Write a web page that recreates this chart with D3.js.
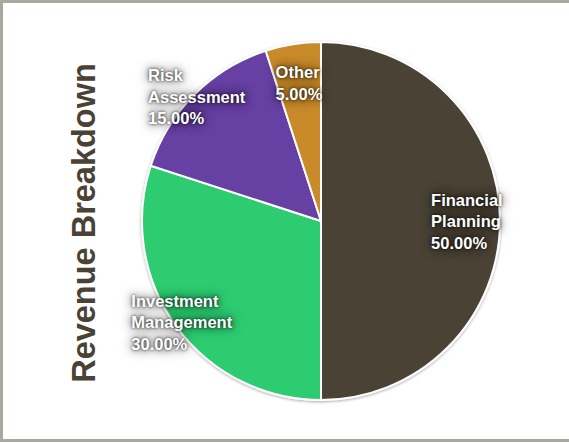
<!DOCTYPE html>
<html>
<head>
<meta charset="utf-8">
<script src="https://cdn.jsdelivr.net/npm/d3@7"></script>
<style>
  html, body { margin: 0; padding: 0; background: #fff; }
  svg { display: block; }
  .slice-label { text-shadow: 0 0 3px rgba(0,0,0,0.8), 0 0 8px rgba(0,0,0,0.6), 0 0 14px rgba(0,0,0,0.35); }
</style>
</head>
<body>
<script>
// Chart values
var categories = ["Financial Planning", "Investment Management", "Risk Assessment", "Other"];
var shares = [50, 30, 15, 5];
var colors = ["#4a4235", "#2ecc71", "#663fa3", "#c98b2a"];
var chartTitle = "Revenue Breakdown";

var width = 569, height = 443;

var svg = d3.select("body").append("svg")
  .attr("width", width)
  .attr("height", height);

// Drop shadow for the pie outline:
var defs = svg.append("defs");
var shadow = defs.append("filter").attr("id", "pie-shadow")
  .attr("x", "-10%").attr("y", "-10%").attr("width", "120%").attr("height", "120%");
shadow.append("feGaussianBlur").attr("in", "SourceAlpha").attr("stdDeviation", 1.5);
shadow.append("feOffset").attr("dx", 0).attr("dy", 1).attr("result", "blur");
shadow.append("feComponentTransfer").append("feFuncA").attr("type", "linear").attr("slope", 0.35);
var merge = shadow.append("feMerge");
merge.append("feMergeNode");
merge.append("feMergeNode").attr("in", "SourceGraphic");

// Frame (gray on top, left and bottom):
svg.append("rect")
  .attr("x", 1.5).attr("y", 1.5)
  .attr("width", width + 10).attr("height", height - 4)
  .attr("fill", "#fff")
  .attr("stroke", "#a9a79e")
  .attr("stroke-width", 3);

// Vertical title:
svg.append("text")
  .attr("transform", "translate(95,223) rotate(-90)")
  .attr("text-anchor", "middle")
  .attr("font-family", "Liberation Sans, Arial, sans-serif")
  .attr("font-weight", "bold")
  .attr("font-size", 32.5)
  .attr("fill", "#4a4235")
  .text(chartTitle);

var cx = 321, cy = 221, radius = 179;

var data = categories.map(function(c, i) {
  return { name: c, value: shares[i], color: colors[i] };
});

var pie = d3.pie().sort(null).value(function(d) { return d.value; });
var arc = d3.arc().innerRadius(0).outerRadius(radius);

var g = svg.append("g").attr("transform", "translate(" + cx + "," + cy + ")");
var arcs = pie(data);

g.append("g").attr("filter", "url(#pie-shadow)")
  .selectAll("path")
  .data(arcs)
  .enter().append("path")
  .attr("d", arc)
  .attr("fill", function(d) { return d.data.color; })
  .attr("stroke", "#fff")
  .attr("stroke-width", 2)
  .attr("stroke-linejoin", "round");

// Label distance from center, as a fraction of the radius (layout only):
var labelRadius = { "Financial Planning": 0.815, "Investment Management": 0.96,
                    "Risk Assessment": 0.98, "Other": 0.78 };

var total = d3.sum(shares);
var lineH = 21.5;

arcs.forEach(function(d) {
  var words = d.data.name.split(" ");
  var lines = words.concat([(d.data.value / total * 100).toFixed(2) + "%"]);
  var mid = (d.startAngle + d.endAngle) / 2;
  var r = radius * labelRadius[d.data.name];
  var px = Math.sin(mid) * r, py = -Math.cos(mid) * r;

  var t = g.append("text")
    .attr("class", "slice-label")
    .attr("font-family", "Liberation Sans, Arial, sans-serif")
    .attr("font-weight", "bold")
    .attr("font-size", 16.5)
    .attr("fill", "#fff");
  lines.forEach(function(l, i) {
    t.append("tspan").attr("x", 0).attr("y", i * lineH).text(l);
  });
  // Center the left-aligned block on the label point:
  var bb = t.node().getBBox();
  t.attr("transform", "translate(" + (px - bb.x - bb.width / 2) + "," +
    (py - bb.y - bb.height / 2) + ")");
});
</script>
</body>
</html>
